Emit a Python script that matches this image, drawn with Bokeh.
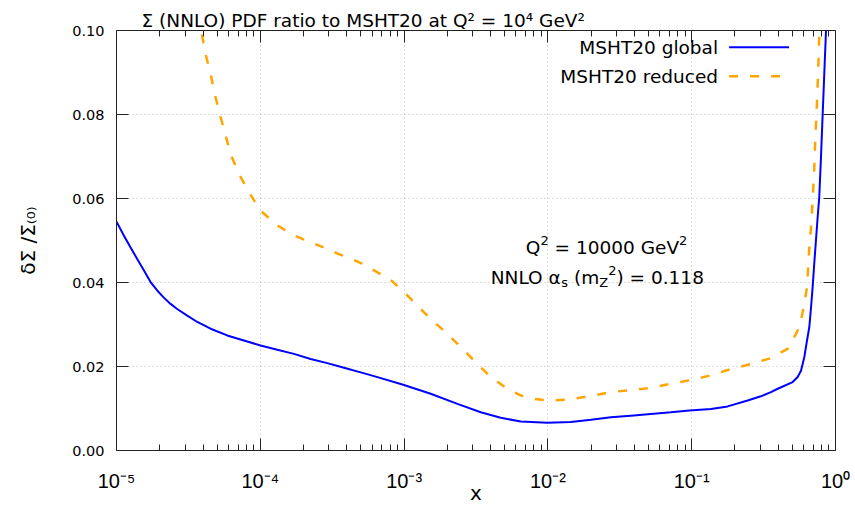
from bokeh.plotting import figure
from bokeh.models import (Range1d, FixedTicker, LogAxis, LinearAxis, CustomJSTickFormatter,
                          NumeralTickFormatter, Label, Arrow)
from bokeh.embed import file_html
from bokeh.resources import INLINE

# ---------------- data (x given as log10(x)) ----------------
global_log10x = [-5.000, -4.949, -4.903, -4.856, -4.810, -4.763, -4.717, -4.671, -4.624, -4.578,
                 -4.508, -4.438, -4.346, -4.230, -4.114, -3.998, -3.882, -3.766, -3.650, -3.534,
                 -3.418, -3.302, -3.209, -3.012, -2.815, -2.629, -2.467, -2.328, -2.189, -2.003,
                 -1.841, -1.701, -1.562, -1.423, -1.284, -1.145, -1.017, -0.866, -0.750, -0.611,
                 -0.519, -0.449, -0.402, -0.298, -0.263, -0.240, -0.217, -0.198, -0.182, -0.170,
                 -0.159, -0.148, -0.136, -0.124, -0.113, -0.101, -0.089, -0.078, -0.066, -0.060]
global_ratio = [0.0545, 0.0512, 0.0484, 0.0456, 0.0429, 0.0401, 0.0381, 0.0364, 0.0349, 0.0337,
                0.0321, 0.0306, 0.0290, 0.0274, 0.0262, 0.0250, 0.0240, 0.0230, 0.0218, 0.0208,
                0.0197, 0.0186, 0.0177, 0.0157, 0.0135, 0.0111, 0.0091, 0.0078, 0.0069, 0.0066,
                0.0068, 0.0073, 0.0079, 0.0083, 0.0087, 0.0091, 0.0095, 0.0099, 0.0105, 0.0119,
                0.0129, 0.0139, 0.0147, 0.0163, 0.0175, 0.0190, 0.0222, 0.0262, 0.0294, 0.0341,
                0.0389, 0.0444, 0.0500, 0.0556, 0.0603, 0.0698, 0.0802, 0.0897, 0.1000, 0.1050]

reduced_log10x = [-4.430, -4.411, -4.381, -4.346, -4.311, -4.276, -4.241, -4.207, -4.149, -4.079,
                  -3.998, -3.882, -3.766, -3.650, -3.534, -3.458, -3.395, -3.300, -3.209, -3.093,
                  -3.012, -2.908, -2.815, -2.699, -2.606, -2.490, -2.397, -2.282, -2.189, -2.096,
                  -2.003, -1.864, -1.701, -1.562, -1.423, -1.284, -1.145, -1.017, -0.866, -0.727,
                  -0.588, -0.449, -0.333, -0.298, -0.263, -0.240, -0.217, -0.198, -0.182, -0.170,
                  -0.159, -0.148, -0.141, -0.131, -0.124, -0.117, -0.113, -0.105]
reduced_ratio = [0.1040, 0.1000, 0.0944, 0.0897, 0.0841, 0.0794, 0.0750, 0.0706, 0.0659, 0.0615,
                 0.0571, 0.0536, 0.0512, 0.0496, 0.0480, 0.0468, 0.0460, 0.0446, 0.0429, 0.0406,
                 0.0381, 0.0345, 0.0313, 0.0278, 0.0246, 0.0206, 0.0175, 0.0147, 0.0131, 0.0123,
                 0.0119, 0.0121, 0.0130, 0.0139, 0.0144, 0.0149, 0.0159, 0.0167, 0.0179, 0.0194,
                 0.0206, 0.0220, 0.0242, 0.0262, 0.0286, 0.0310, 0.0349, 0.0389, 0.0484, 0.0532,
                 0.0595, 0.0667, 0.0738, 0.0810, 0.0873, 0.0937, 0.0992, 0.1060]

x_tick_values = [1e-5, 1e-4, 1e-3, 1e-2, 1e-1, 1.0]
x_tick_labels = ["10⁻⁵", "10⁻⁴", "10⁻³", "10⁻²", "10⁻¹", "10⁰"]
y_tick_values = [0.0, 0.02, 0.04, 0.06, 0.08, 0.10]

series_names = ["MSHT20 global", "MSHT20 reduced"]
series_colors = ["#0000ff", "#ffa500"]

title_text = "Σ (NNLO) PDF ratio to MSHT20 at Q² = 10⁴ GeV²"
y_label = "δΣ /Σ₍₀₎"
x_label = "x"

global_x = [10 ** v for v in global_log10x]
reduced_x = [10 ** v for v in reduced_log10x]

# ---------------- figure ----------------
FONT = "DejaVu Sans"
AXC = "#222222"

p = figure(width=855, height=507, x_axis_type="log",
           x_range=Range1d(1e-5, 1.0), y_range=Range1d(0.0, 0.1),
           output_backend="svg", toolbar_location=None,
           min_border_left=116, min_border_right=20, min_border_top=30, min_border_bottom=57)
p.outline_line_color = None
p.background_fill_color = "white"
p.border_fill_color = "white"

# title
p.title.text = title_text
p.title.align = "left"
p.title.offset = 25
p.title.standoff = 0
p.title.text_font = FONT
p.title.text_font_size = "18.5px"
p.title.text_font_style = "normal"
p.title.text_color = "black"

minor_x = [m * v for v in x_tick_values[:-1] for m in range(2, 10)]
xt = FixedTicker(ticks=x_tick_values, minor_ticks=minor_x)
yt = FixedTicker(ticks=y_tick_values)

xfmt = CustomJSTickFormatter(args=dict(vals=x_tick_values, labs=x_tick_labels), code="""
let best = 0, bd = Infinity;
for (let i = 0; i < vals.length; i++) {
  const d = Math.abs(Math.log10(vals[i]) - Math.log10(tick));
  if (d < bd) { bd = d; best = i; }
}
return labs[best];
""")
blank = CustomJSTickFormatter(code="return '';")

def style_axis(ax, show_labels):
    ax.axis_line_color = AXC
    ax.axis_line_width = 1
    ax.major_tick_line_color = AXC
    ax.minor_tick_line_color = AXC
    ax.major_tick_in = 12
    ax.major_tick_out = 0
    ax.minor_tick_in = 6
    ax.minor_tick_out = 0
    if not show_labels:
        ax.formatter = blank
        ax.major_label_text_font_size = "2px"
        ax.major_label_standoff = 0

# bottom x axis
xa = p.xaxis[0]
xa.ticker = xt
xa.formatter = xfmt
style_axis(xa, True)
xa.major_label_text_font = "Liberation Sans"
xa.major_label_text_font_size = "20px"
xa.major_label_text_color = "black"
xa.major_label_standoff = 19
xa.axis_label = x_label
xa.axis_label_text_font = FONT
xa.axis_label_text_font_size = "20px"
xa.axis_label_text_font_style = "normal"
xa.axis_label_text_color = "black"
xa.axis_label_standoff = -14

# left y axis
ya = p.yaxis[0]
ya.ticker = yt
ya.formatter = NumeralTickFormatter(format="0.00")
style_axis(ya, True)
ya.minor_tick_line_color = None
ya.major_label_text_font = FONT
ya.major_label_text_font_size = "14.5px"
ya.major_label_text_color = "black"
ya.major_label_standoff = 12
ya.axis_label = y_label
ya.axis_label_text_font = FONT
ya.axis_label_text_font_size = "20px"
ya.axis_label_text_font_style = "normal"
ya.axis_label_text_color = "black"
ya.axis_label_standoff = 29

# mirror axes
top = LogAxis(ticker=xt)
style_axis(top, False)
p.add_layout(top, "above")
right = LinearAxis(ticker=yt)
style_axis(right, False)
right.minor_tick_line_color = None
p.add_layout(right, "right")

# grids
p.xgrid.ticker = xt
p.ygrid.ticker = yt
for g in (p.xgrid, p.ygrid):
    g.grid_line_color = "#bbbbbb"
    g.grid_line_dash = "1 3"
    g.grid_line_width = 1

# curves
p.line(global_x, global_ratio, line_color=series_colors[0], line_width=2)
p.line(reduced_x, reduced_ratio, line_color=series_colors[1], line_width=2.5, line_dash="9 12")

# legend (gnuplot style: text right-aligned, sample to the right)
leg_text_x = 0.1525
leg_line_x0, leg_line_x1 = 0.182, 0.475
leg_rows_y = [0.0960, 0.0891]
for name, col, yy, dash, lw in zip(series_names, series_colors, leg_rows_y, ["solid", "9 12"], [2, 2.5]):
    p.add_layout(Label(x=leg_text_x, y=yy, text=name, text_align="right", text_baseline="middle",
                       text_font=FONT, text_font_size="18.5px", text_color="black"))
    p.add_layout(Arrow(end=None, x_start=leg_line_x0, y_start=yy, x_end=leg_line_x1, y_end=yy,
                       line_color=col, line_width=lw, line_dash=dash))

# annotation, composed with raised / lowered pieces
def pieces_at(x, y, pieces):
    for txt, dx, fs, dy in pieces:
        p.add_layout(Label(x=x, y=y, x_offset=dx, y_offset=dy, text=txt, text_align="left",
                           text_baseline="alphabetic", text_font=FONT, text_font_size=f"{fs}px",
                           text_color="black"))

pieces_at(0.007018, 0.04833, [("Q", 0, 18.5, 0), ("2", 14.6, 13, 7),
                              ("= 10000 GeV", 28.8, 18.5, 0), ("2", 153.3, 13, 7)])
pieces_at(0.004005, 0.04119, [("NNLO α", 0, 18.5, 0), ("s", 70.6, 13, -5), ("(m", 83.3, 18.5, 0),
                              ("Z", 108.5, 13, -5), ("2", 117.4, 13, 7), (") = 0.118", 125.7, 18.5, 0)])

open("out.html", "w").write(file_html(p, INLINE))
